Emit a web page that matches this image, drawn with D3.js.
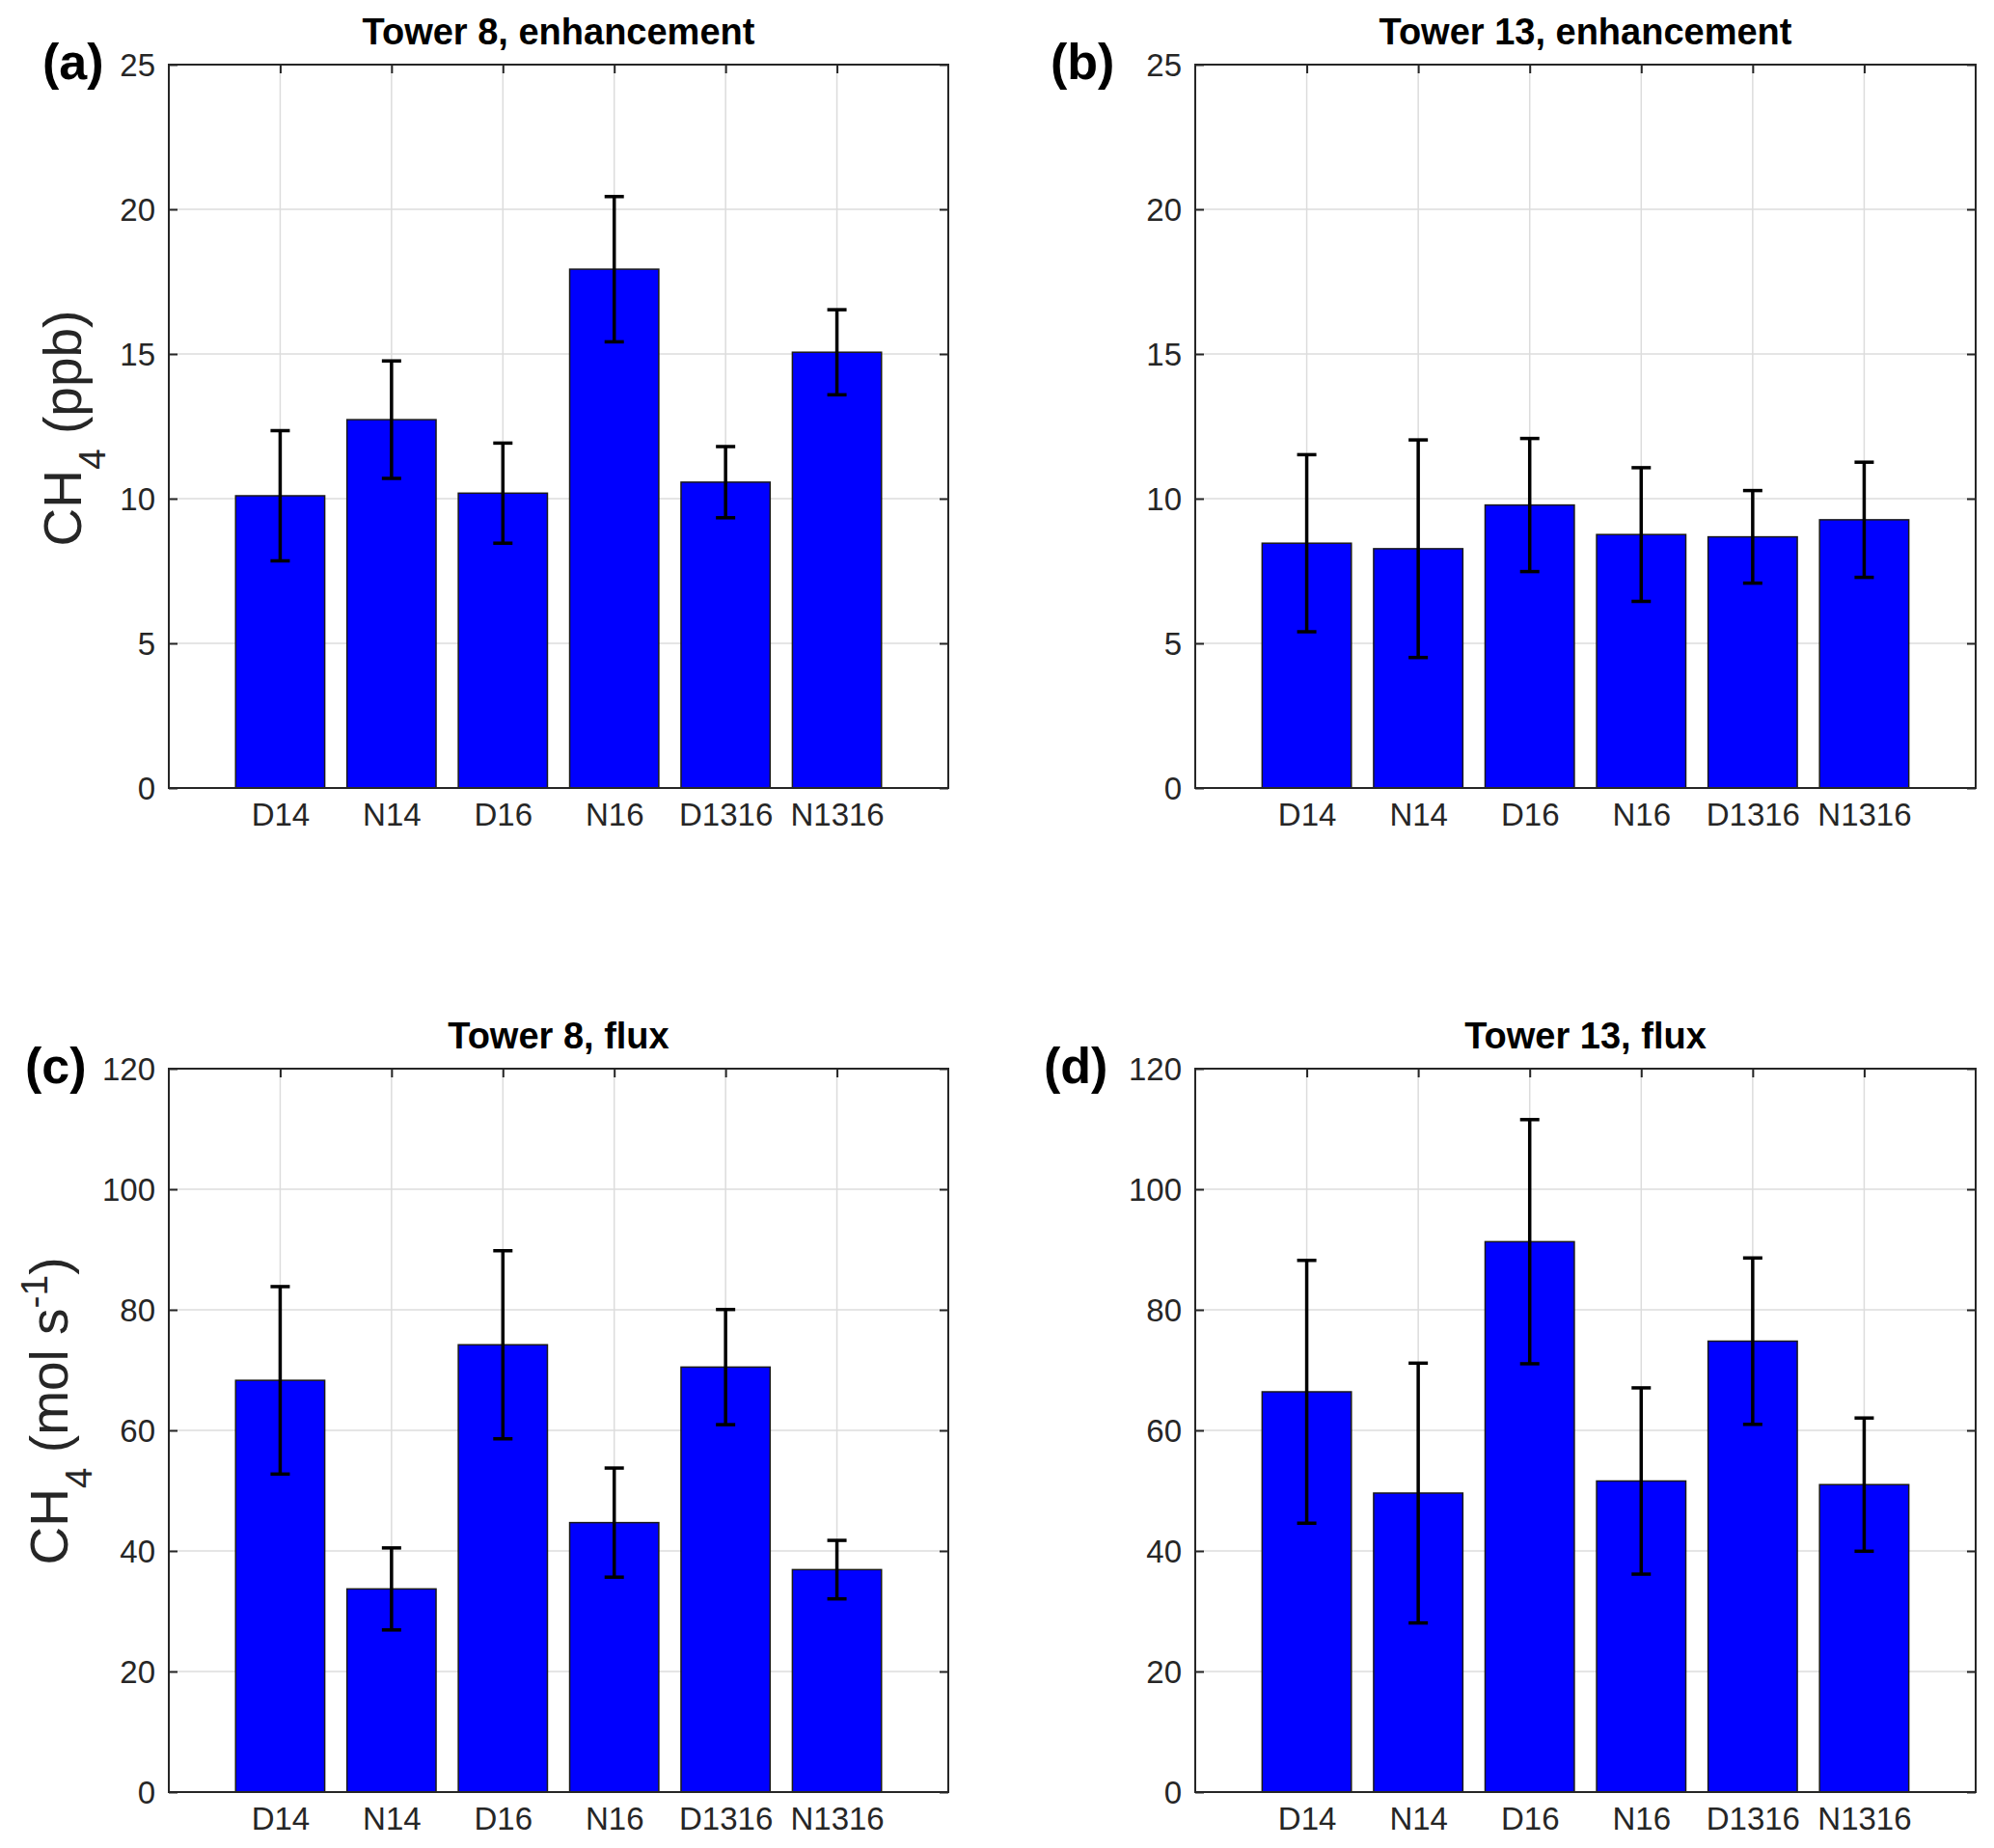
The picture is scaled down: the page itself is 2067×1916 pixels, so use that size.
<!DOCTYPE html>
<html>
<head>
<meta charset="utf-8">
<script src="https://cdn.jsdelivr.net/npm/d3@7"></script>
<style>
  html, body { margin: 0; padding: 0; background: #ffffff; }
  svg { display: block; }
  text { font-family: "Liberation Sans", Arial, Helvetica, sans-serif; }
</style>
</head>
<body>
<svg id="chart" width="2067" height="1916"></svg>
<script>
// ---- data ----
const categories = ["D14", "N14", "D16", "N16", "D1316", "N1316"];

const tower8Enh     = [10.10, 12.73, 10.19, 17.93, 10.57, 15.06];
const tower8EnhErr  = [2.25, 2.03, 1.73, 2.51, 1.23, 1.47];
const tower13Enh    = [8.46, 8.27, 9.78, 8.76, 8.68, 9.27];
const tower13EnhErr = [3.06, 3.76, 2.30, 2.31, 1.60, 1.99];
const tower8Flux     = [68.3, 33.7, 74.2, 44.7, 70.5, 36.9];
const tower8FluxErr  = [15.55, 6.8, 15.6, 9.05, 9.55, 4.85];
const tower13Flux    = [66.4, 49.6, 91.3, 51.6, 74.8, 51.0];
const tower13FluxErr = [21.8, 21.55, 20.25, 15.45, 13.8, 11.05];

const enhTicks  = [0, 5, 10, 15, 20, 25];
const fluxTicks = [0, 20, 40, 60, 80, 100, 120];

const titles = ["Tower 8, enhancement", "Tower 13, enhancement", "Tower 8, flux", "Tower 13, flux"];
const panelLetters = ["(a)", "(b)", "(c)", "(d)"];

// ---- layout ----
const svg = d3.select("#chart");
const panels = [
  { x0: 175,  x1: 983,  y0: 67,   y1: 817,  vals: tower8Enh,   errs: tower8EnhErr,   ticks: enhTicks,  max: 25,  letterX: 44,   ylabel: "enh", ylx: 84, yly: 444 },
  { x0: 1239, x1: 2048, y0: 67,   y1: 817,  vals: tower13Enh,  errs: tower13EnhErr,  ticks: enhTicks,  max: 25,  letterX: 1089 },
  { x0: 175,  x1: 983,  y0: 1108, y1: 1858, vals: tower8Flux,  errs: tower8FluxErr,  ticks: fluxTicks, max: 120, letterX: 26,   ylabel: "flux", ylx: 70, yly: 1463 },
  { x0: 1239, x1: 2048, y0: 1108, y1: 1858, vals: tower13Flux, errs: tower13FluxErr, ticks: fluxTicks, max: 120, letterX: 1082 }
];

const axisColor = "#262626";
const gridColor = "#dcdcdc";

panels.forEach((p, pi) => {
  const g = svg.append("g");
  const x = d3.scaleLinear().domain([0, 7]).range([p.x0, p.x1]);
  const y = d3.scaleLinear().domain([0, p.max]).range([p.y1, p.y0]);
  const idx = categories.map((c, i) => i + 1);

  // grid
  g.append("g").selectAll("line.gx").data(idx).join("line")
    .attr("x1", d => x(d)).attr("x2", d => x(d))
    .attr("y1", p.y0).attr("y2", p.y1)
    .attr("stroke", gridColor).attr("stroke-width", 1.5);
  g.append("g").selectAll("line.gy").data(p.ticks.slice(1, -1)).join("line")
    .attr("x1", p.x0).attr("x2", p.x1)
    .attr("y1", d => y(d)).attr("y2", d => y(d))
    .attr("stroke", gridColor).attr("stroke-width", 1.5);

  // axes (ticks inward)
  const left = g.append("g").attr("transform", `translate(${p.x0},0)`)
    .call(d3.axisLeft(y).tickValues(p.ticks).tickSize(-9).tickPadding(14).tickFormat(d3.format("d")));
  const right = g.append("g").attr("transform", `translate(${p.x1},0)`)
    .call(d3.axisRight(y).tickValues(p.ticks).tickSize(-9).tickFormat(""));
  const top = g.append("g").attr("transform", `translate(0,${p.y0})`)
    .call(d3.axisTop(x).tickValues(idx).tickSize(-9).tickFormat(""));
  const bottom = g.append("g").attr("transform", `translate(0,${p.y1})`)
    .call(d3.axisBottom(x).tickValues(idx).tickSize(0).tickPadding(16).tickFormat(d => categories[d - 1]));
  [left, right, top, bottom].forEach(a => {
    a.select(".domain").remove();
    a.selectAll(".tick line").attr("stroke", axisColor).attr("stroke-width", 2);
    a.selectAll(".tick text").attr("fill", axisColor).style("font-size", "33px")
      .style("font-family", '"Liberation Sans", Arial, Helvetica, sans-serif');
  });
  left.selectAll(".tick text").attr("dy", "0.36em");
  bottom.selectAll(".tick text").attr("dy", "0.71em");

  // bars
  const bw = 0.8;
  g.append("g").selectAll("rect").data(p.vals).join("rect")
    .attr("x", (d, i) => x(i + 1 - bw / 2))
    .attr("width", (d, i) => x(i + 1 + bw / 2) - x(i + 1 - bw / 2))
    .attr("y", d => y(d))
    .attr("height", d => y(0) - y(d))
    .attr("fill", "#0000ff")
    .attr("stroke", "#1a1a1a").attr("stroke-width", 1.5);

  // error bars
  const eb = g.append("g").attr("stroke", "#000").attr("stroke-width", 3.5).attr("fill", "none");
  const cap = 10;
  p.vals.forEach((v, i) => {
    const cx = x(i + 1);
    const lo = y(v - p.errs[i]), hi = y(v + p.errs[i]);
    eb.append("line").attr("x1", cx).attr("x2", cx).attr("y1", lo).attr("y2", hi);
    eb.append("line").attr("x1", cx - cap).attr("x2", cx + cap).attr("y1", lo).attr("y2", lo);
    eb.append("line").attr("x1", cx - cap).attr("x2", cx + cap).attr("y1", hi).attr("y2", hi);
  });

  // box
  g.append("rect").attr("x", p.x0).attr("y", p.y0)
    .attr("width", p.x1 - p.x0).attr("height", p.y1 - p.y0)
    .attr("fill", "none").attr("stroke", axisColor).attr("stroke-width", 2);

  // title
  g.append("text").attr("x", (p.x0 + p.x1) / 2).attr("y", p.y0 - 21)
    .attr("text-anchor", "middle").style("font-size", "38px").style("font-weight", "bold")
    .attr("fill", "#000").text(titles[pi]);

  // panel letter
  g.append("text").attr("x", p.letterX).attr("y", p.y0 + 15)
    .style("font-size", "52px").style("font-weight", "bold").attr("fill", "#000")
    .text(panelLetters[pi]);

  // y label
  if (p.ylabel) {
    const t = g.append("text")
      .attr("transform", `translate(${p.ylx},${p.yly}) rotate(-90)`)
      .attr("text-anchor", "middle").attr("fill", axisColor)
      .style("font-size", "55px");
    t.append("tspan").text("CH");
    t.append("tspan").attr("dy", 25).style("font-size", "39px").text("4");
    if (p.ylabel === "enh") {
      t.append("tspan").attr("dy", -25).text(" (ppb)");
    } else {
      t.append("tspan").attr("dy", -25).text(" (mol s");
      t.append("tspan").attr("dy", -21).style("font-size", "39px").text("-1");
      t.append("tspan").attr("dy", 21).text(")");
    }
  }
});
</script>
</body>
</html>
